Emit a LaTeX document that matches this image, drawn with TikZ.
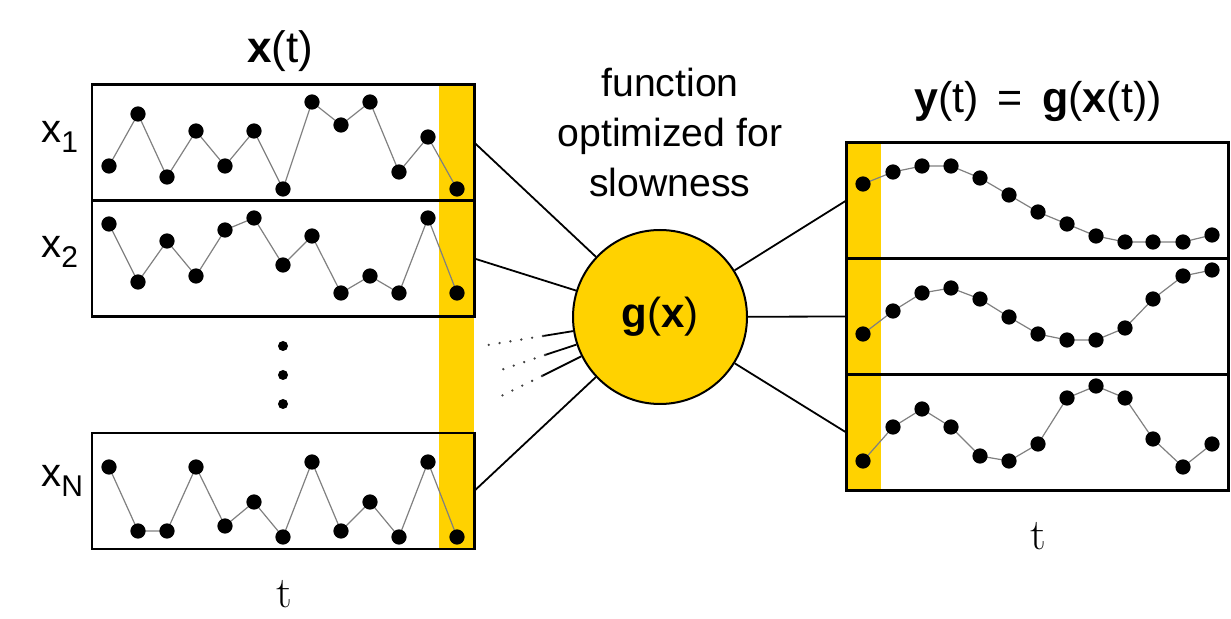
\documentclass[tikz,border=0pt]{standalone}
\usepackage{fontspec}
\setsansfont{Liberation Sans}
\usetikzlibrary{positioning}
\definecolor{slowgold}{RGB}{255,210,0}
\newcommand{\xsub}[1]{x\raisebox{-5pt}{\fontsize{15}{15}\selectfont #1}}
\tikzstyle{series} = [rectangle, draw=black, line width=1.3pt, outer sep=0pt, inner sep=0pt, minimum width=191.2pt, minimum height=58pt]
\tikzstyle{trace} = [draw=gray, line width=0.6pt, mark=*, mark size=3.5pt, mark options={draw=black, fill=black}]
\tikzstyle{edge} = [draw=black, line width=0.9pt]
\tikzstyle{fan} = [draw=black!75, line width=1.3pt, line cap=round, dash pattern=on 0pt off 5.5pt]
\tikzstyle{lbl} = [font=\sffamily\fontsize{20}{24}\selectfont, inner sep=0pt]
\tikzstyle{tlbl} = [font=\rmfamily\fontsize{22}{24}\selectfont, inner sep=0pt, anchor=base]

\begin{document}
\begin{tikzpicture}[x=0.5pt, y=-0.5pt]
\useasboundingbox (0,0) rectangle (1231,619);

% Window of the current time step
\fill[slowgold] (439,85) rectangle (474,549);
\fill[slowgold] (846,142) rectangle (881,490);

% Define nodes
\node[series]                      (x1) at (283,142.5) {};
\node[series, below = 0pt of x1]   (x2) {};
\node[series]                      (xN) at (283,491) {};
\node[series]                      (y1) at (1037.5,200.5) {};
\node[series, below = 0pt of y1]   (y2) {};
\node[series, below = 0pt of y2]   (y3) {};
\node[circle, draw=black, line width=1pt, fill=slowgold, minimum size=87pt, inner sep=0pt,
      font=\sffamily\fontsize{21}{24}\selectfont] (g) at (660,317) {\textbf{g}(\textbf{x})};

\node[lbl, anchor=base west] (l1) at (41,143) {\xsub{1}};
\node[lbl, anchor=base west] (l2) at (41,258) {\xsub{2}};
\node[lbl, anchor=base west] (lN) at (41,487) {\xsub{N}};
\node[lbl, font=\sffamily\fontsize{22}{24}\selectfont, anchor=base] (tx) at (280,63) {\textbf{x}(t)};
\node[lbl, font=\sffamily\fontsize{21.5}{24}\selectfont, anchor=base] (ty) at (1038,113)
      {\textbf{y}(t) \,=\, \textbf{g}(\textbf{x}(t))};
\node[lbl, font=\sffamily\fontsize{19.6}{25}\selectfont, align=center, anchor=north] (fn) at (670,68)
      {function\\optimized for\\slowness};
\node[tlbl] (t1) at (284,607) {t};
\node[tlbl] (t2) at (1038,550) {t};

% Input signals
\draw[trace] plot coordinates {(109,166) (138,114) (167,177) (196,131) (225,166) (254,131) (283,189)
  (312,102) (341,125) (370,102) (399,172) (428,137) (457,189)};
\draw[trace] plot coordinates {(109,224) (138,282) (167,241) (196,276) (225,230) (254,218) (283,265)
  (312,236) (341,293) (370,276) (399,293) (428,218) (457,293)};
\draw[trace] plot coordinates {(109,467) (138,531) (167,531) (196,467) (225,526) (254,502) (283,537)
  (312,462) (341,531) (370,502) (399,537) (428,462) (457,537)};
\foreach \yy in {346,375,404}
  \fill (283,\yy) circle (2.5pt);

% Output signals
\draw[trace] plot coordinates {(863,184) (893,172) (922,166) (951,166) (980,178) (1009,195) (1038,212)
  (1067,224) (1096,236) (1125,242) (1153,242) (1183,242) (1212,235)};
\draw[trace] plot coordinates {(863,334) (893,311) (922,293) (951,288) (980,299) (1009,317) (1038,334)
  (1067,340) (1096,340) (1125,328) (1153,299) (1183,276) (1212,270)};
\draw[trace] plot coordinates {(863,461) (893,427) (922,409) (951,427) (980,456) (1009,461) (1038,444)
  (1067,398) (1096,386) (1125,398) (1153,439) (1183,467) (1212,444)};

% Edges
\draw[edge] (x1.east) -- (g);
\draw[edge] (x2.east) -- (g);
\draw[edge] (xN.east) -- (g);
\draw[edge] (g) -- (y1.west);
\draw[edge] (g) -- (y2.west);
\draw[edge] (g) -- (y3.west);

\coordinate (a1) at (543,336); \coordinate (a2) at (488,345);
\coordinate (b1) at (545,355); \coordinate (b2) at (495,372);
\coordinate (c1) at (542,376); \coordinate (c2) at (495,399);
\foreach \s in {a,b,c} {
  \draw[edge] (g) -- (\s1);
  \draw[fan] (\s1) -- (\s2);
}
\end{tikzpicture}
\end{document}
